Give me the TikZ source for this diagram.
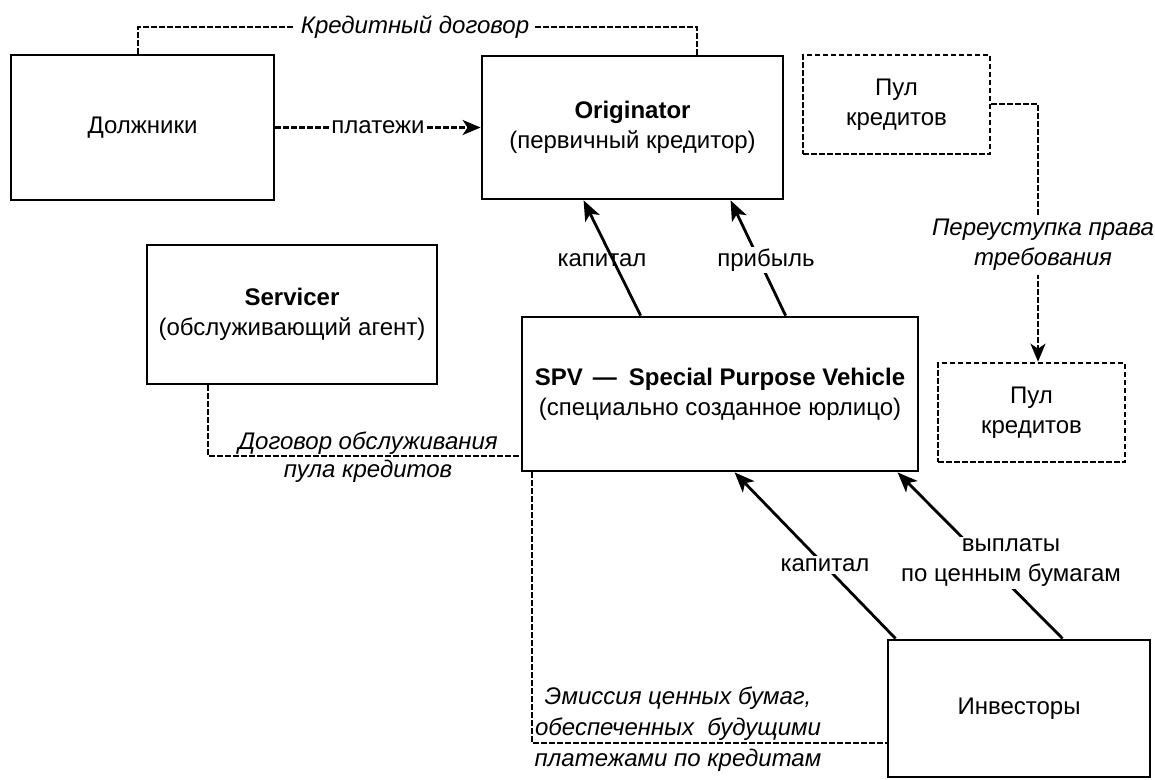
\documentclass[tikz,border=0pt]{standalone}
\usepackage{fontspec}
\setmainfont{Liberation Sans}
\usetikzlibrary{arrows.meta}
\begin{document}
\begin{tikzpicture}[x=1pt,y=-1pt,
  box/.style={draw, line width=2.8pt, inner sep=0pt, align=center, font=\fontsize{24}{30}\selectfont},
  dbox/.style={box, dash pattern=on 5.5pt off 2.5pt, line width=2.6pt},
  dline/.style={line width=2.6pt, dash pattern=on 5.5pt off 2.5pt},
  sarrow/.style={line width=2.8pt, -{Stealth[length=20pt,width=16pt,inset=5pt]}},
  darrow/.style={dline, -{Stealth[length=18pt,width=15pt,inset=5pt]}},
  lbl/.style={font=\fontsize{24}{30}\selectfont, align=center, inner sep=3pt},
  ilbl/.style={lbl, font=\fontsize{24}{30}\selectfont\itshape},
]
\useasboundingbox (0,0) rectangle (1155,779);

% boxes
\node[box, minimum width=263pt, minimum height=145pt] (dolzh) at (142.5,127.5) {Должники};
\node[box, minimum width=301pt, minimum height=143pt] (orig) at (632.5,127.5) {\textbf{Originator}\\(первичный кредитор)};
\node[dbox, minimum width=187pt, minimum height=99pt] (pool1) at (896.5,104.5) {Пул\\кредитов};
\node[dbox, minimum width=187pt, minimum height=99pt] (pool2) at (1031.5,412.5) {Пул\\кредитов};
\node[box, minimum width=290pt, minimum height=139pt] (serv) at (292,314.5) {\textbf{Servicer}\\(обслуживающий агент)};
\node[box, minimum width=396pt, minimum height=154pt] (spv) at (720,394) {\textbf{SPV\hspace{10pt}—\hspace{12pt}Special Purpose Vehicle}\\(специально созданное юрлицо)};
\node[box, minimum width=262pt, minimum height=137pt] (inv) at (1019,708.5) {Инвесторы};

% credit agreement
\coordinate (k1) at (138,27);
\coordinate (k2) at (697,27);
\draw[dline] (dolzh.north -| k1) -- (k1) -- (k2) -- (orig.north -| k2);
\node[ilbl, fill=white, inner sep=6pt] (lcredit) at (415,27) {Кредитный договор};

% payments
\draw[darrow] (dolzh.east) -- (orig.west) node[lbl, midway, fill=white, inner sep=1pt] (lpay) {платежи};

% assignment
\coordinate (p1) at (1038,104);
\draw[darrow] (pool1.east |- p1) -- (p1) -- (pool2.north -| p1);
\node[ilbl, fill=white, inner sep=4pt] (lpereust) at (1043,245) {Переуступка права\\требования};

% servicing
\coordinate (s1) at (208,456);
\draw[dline] (serv.south -| s1) -- (s1) -- (spv.west |- s1);
\node[ilbl, font=\fontsize{24}{28}\selectfont\itshape] (lserv) at (368,457) {Договор обслуживания\\пула кредитов};

% emission
\coordinate (e1) at (532,743);
\draw[dline] (spv.south -| e1) -- (e1) -- (inv.west |- e1);
\node[ilbl, font=\fontsize{24}{31}\selectfont\itshape] (lemis) at (678,729) {Эмиссия ценных бумаг,\\обеспеченных\ \ будущими\\платежами по кредитам};

% SPV -> Originator
\draw[sarrow] ([xshift=120pt]spv.north west) -- ([xshift=103pt]orig.south west);
\node[lbl, inner sep=1pt] (lcap1) at (602,260) {капитал};
\draw[sarrow] ([xshift=265pt]spv.north west) -- ([xshift=250pt]orig.south west);
\node[lbl, fill=white, inner sep=2pt] (lprof) at (766,260) {прибыль};

% Investors -> SPV
\draw[sarrow] ([xshift=9pt]inv.north west) -- ([xshift=214pt]spv.south west);
\node[lbl, fill=white, inner sep=2pt] (lcap2) at (825,565) {капитал};
\draw[sarrow] ([xshift=176pt]inv.north west) -- ([xshift=377pt]spv.south west);
\node[lbl, fill=white, inner sep=2pt] (lpay2) at (1011,563) {выплаты\\по ценным бумагам};
\end{tikzpicture}
\end{document}
